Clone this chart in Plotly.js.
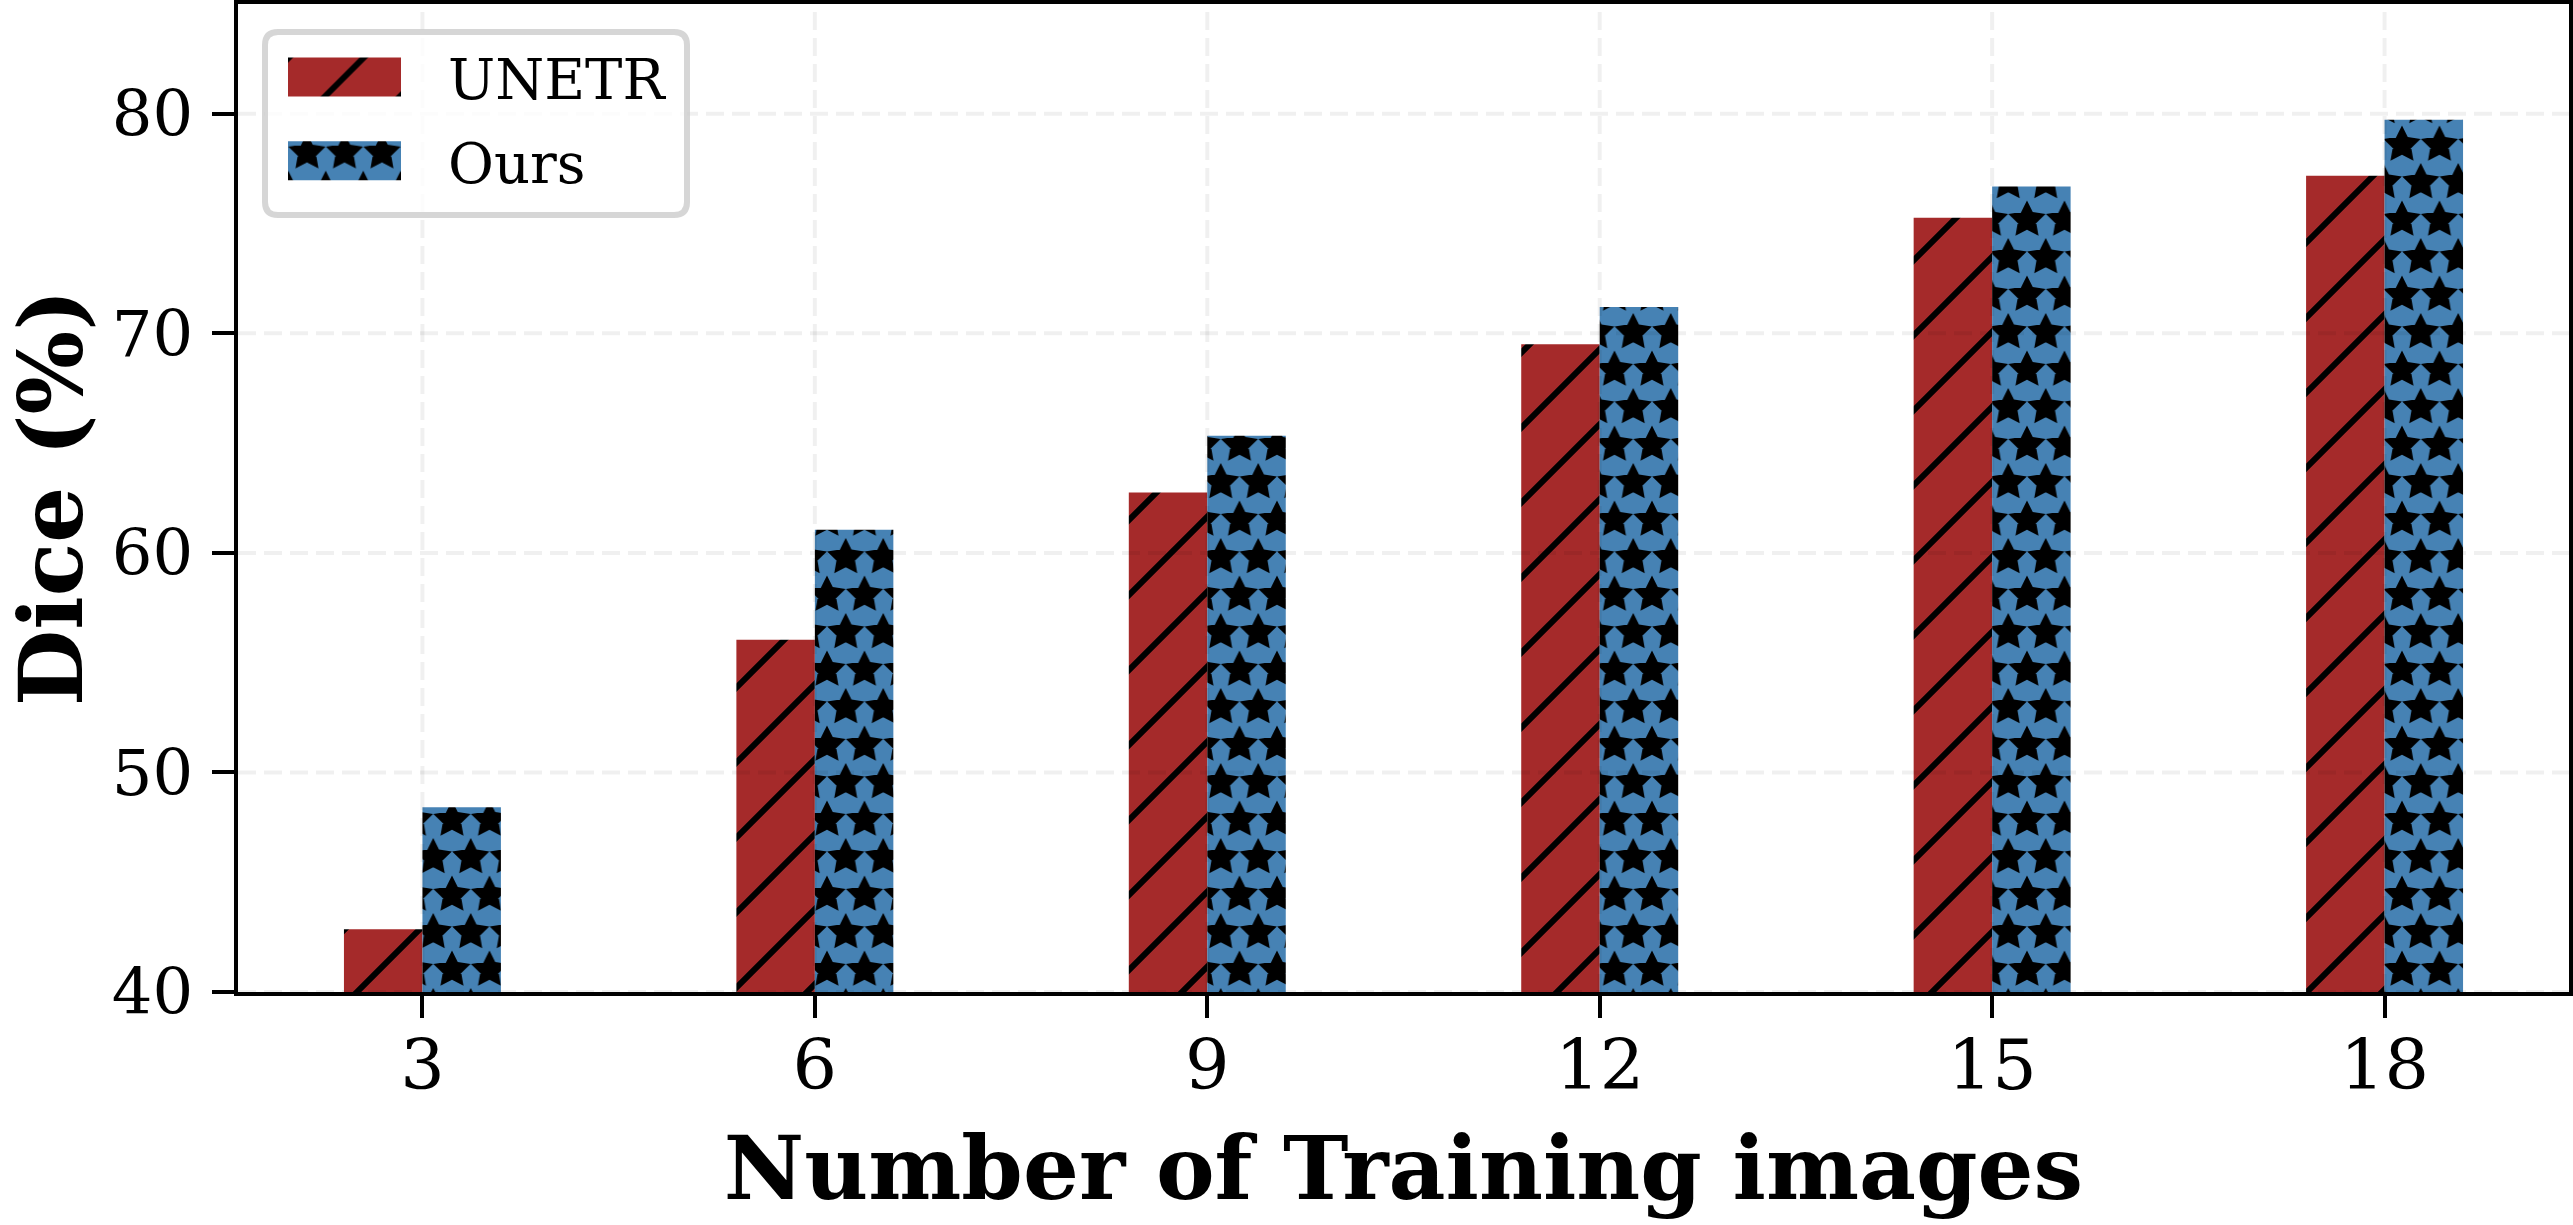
<!DOCTYPE html>
<html><head><meta charset="utf-8">
<script src="https://cdn.plot.ly/plotly-3.0.1.min.js"></script>
<style>html,body{margin:0;padding:0;background:#fff;overflow:hidden;} #chart{width:2573px;height:1225px;}</style>
</head><body>
<div id="chart"></div>
<script>
// ---------------- data ----------------
const categories = ['3', '6', '9', '12', '15', '18'];
const seriesNames = ['UNETR', 'Ours'];
const unetrDice = [42.86, 56.04, 62.75, 69.50, 75.26, 77.18];
const oursDice  = [48.41, 61.05, 65.34, 71.20, 76.69, 79.73];
const yTickValues = [40, 50, 60, 70, 80];
const xTitleText = 'Number of Training images';
const yTitleText = 'Dice (%)';

// ---------------- styling ----------------
const W = 2573, H = 1225;
const M = {l: 238, r: 4, t: 4, b: 233};
const FONT = 'DejaVu Serif';
const RED = '#a52a2a', BLUE = '#4682b4';
const GRID = 'rgba(0,0,0,0.06)';
const pw = W - M.l - M.r, ph = H - M.t - M.b;
const px2x = p => (p - M.l) / pw;
const px2y = p => 1 - (p - M.t) / ph;

// grid lines drawn above bars (as in the reference)
const shapes = [];
yTickValues.forEach(v => shapes.push({type: 'line', layer: 'above', xref: 'paper', yref: 'y',
  x0: 0, x1: 1, y0: v, y1: v, line: {color: GRID, width: 4, dash: '18px,8px'}}));
categories.forEach((c, i) => shapes.push({type: 'line', layer: 'above', xref: 'x', yref: 'paper',
  x0: i, x1: i, y0: 0, y1: 1, line: {color: GRID, width: 4, dash: '18px,8px'}}));

// rounded legend frame
(function () {
  const x0 = 265, x1 = 687, y0 = 32, y1 = 215, r = 13;
  const X = px2x, Y = px2y;
  const d = `M${X(x0 + r)},${Y(y0)} L${X(x1 - r)},${Y(y0)} Q${X(x1)},${Y(y0)} ${X(x1)},${Y(y0 + r)}` +
    ` L${X(x1)},${Y(y1 - r)} Q${X(x1)},${Y(y1)} ${X(x1 - r)},${Y(y1)}` +
    ` L${X(x0 + r)},${Y(y1)} Q${X(x0)},${Y(y1)} ${X(x0)},${Y(y1 - r)}` +
    ` L${X(x0)},${Y(y0 + r)} Q${X(x0)},${Y(y0)} ${X(x0 + r)},${Y(y0)} Z`;
  shapes.push({type: 'path', layer: 'above', xref: 'paper', yref: 'paper', path: d,
    fillcolor: 'rgba(255,255,255,0.8)', line: {color: 'rgba(204,204,204,0.8)', width: 6}});
})();

const traces = [
  {type: 'bar', name: seriesNames[0], x: categories, y: unetrDice, legendgroup: 'a',
   marker: {color: RED, line: {width: 0},
     pattern: {shape: '/', fillmode: 'overlay', bgcolor: RED, fgcolor: '#000', size: 53, solidity: 0.113}}},
  {type: 'bar', name: seriesNames[1], x: categories, y: oursDice, legendgroup: 'b',
   marker: {color: BLUE, line: {width: 0},
     pattern: {shape: '.', fillmode: 'overlay', bgcolor: BLUE, fgcolor: '#000', size: 37, solidity: 0.5}}}
];

const axisCommon = {showline: true, mirror: true, linecolor: '#000', linewidth: 4,
  ticks: 'outside', ticklen: 22, tickwidth: 4, tickcolor: '#000', showgrid: false, zeroline: false};

const layout = {
  width: W, height: H, margin: M, paper_bgcolor: '#fff', plot_bgcolor: '#fff',
  font: {family: FONT, color: '#000'},
  barmode: 'group', bargap: 0.6, bargroupgap: 0,
  showlegend: true,
  legend: {x: px2x(241), y: px2y(34), xanchor: 'left', yanchor: 'top', bgcolor: 'rgba(0,0,0,0)',
    borderwidth: 0, itemwidth: 197, tracegroupgap: 8, font: {family: FONT, size: 56, color: '#000'}},
  xaxis: Object.assign({}, axisCommon, {type: 'category', range: [-0.47, 5.47],
    tickfont: {family: FONT, size: 70}, ticklabelstandoff: -13,
    title: {text: xTitleText, font: {family: FONT, size: 88, weight: 700}, standoff: 33}}),
  yaxis: Object.assign({}, axisCommon, {range: [40, 85], tickvals: yTickValues,
    tickfont: {family: FONT, size: 64}, ticklabelstandoff: 6}),
  annotations: [{text: yTitleText, xref: 'paper', yref: 'paper', x: px2x(51), y: 0.5,
    xanchor: 'center', yanchor: 'middle', textangle: -90, showarrow: false,
    font: {family: FONT, size: 88, weight: 700, color: '#000'}}],
  shapes: shapes
};

function mkStar(cx, cy, R) {
  let d = '';
  for (let k = 0; k < 10; k++) {
    const a = Math.PI / 2 + k * Math.PI / 5;
    const r = (k % 2 === 0) ? R : R * 0.5;
    d += (k === 0 ? 'M' : 'L') + (cx + r * Math.cos(a)).toFixed(2) + ',' + (cy - r * Math.sin(a)).toFixed(2);
  }
  return d + 'Z';
}

function addPatterns(gd) {
  const NS = 'http://www.w3.org/2000/svg';
  const defs = gd.querySelector('svg.main-svg defs');
  const P = 37.5, R = 12.5, SW = 6.25;
  function starPattern(id, ox, oy) {
    const pat = document.createElementNS(NS, 'pattern');
    pat.setAttribute('id', id);
    pat.setAttribute('patternUnits', 'userSpaceOnUse');
    pat.setAttribute('width', P); pat.setAttribute('height', 2 * P);
    pat.setAttribute('x', ox); pat.setAttribute('y', oy);
    const bg = document.createElementNS(NS, 'rect');
    bg.setAttribute('width', P); bg.setAttribute('height', 2 * P); bg.setAttribute('fill', BLUE);
    pat.appendChild(bg);
    const path = document.createElementNS(NS, 'path');
    path.setAttribute('d', [[0, 0], [P, 0], [0, 2 * P], [P, 2 * P], [P / 2, P]].map(c => mkStar(c[0], c[1], R)).join(''));
    path.setAttribute('fill', '#000'); path.setAttribute('stroke', '#000');
    path.setAttribute('stroke-width', SW); path.setAttribute('stroke-linejoin', 'miter');
    pat.appendChild(path);
    defs.appendChild(pat);
  }
  function hatchPattern(id, S, ox, oy) {
    const pat = document.createElementNS(NS, 'pattern');
    pat.setAttribute('id', id);
    pat.setAttribute('patternUnits', 'userSpaceOnUse');
    pat.setAttribute('width', S); pat.setAttribute('height', S);
    pat.setAttribute('x', ox); pat.setAttribute('y', oy);
    const bg = document.createElementNS(NS, 'rect');
    bg.setAttribute('width', S); bg.setAttribute('height', S); bg.setAttribute('fill', RED);
    pat.appendChild(bg);
    const path = document.createElementNS(NS, 'path');
    path.setAttribute('d', `M${-S / 4},${S / 4}l${S / 2},${-S / 2}M0,${S}L${S},0M${S * 3 / 4},${S * 5 / 4}l${S / 2},${-S / 2}`);
    path.setAttribute('stroke', '#000'); path.setAttribute('stroke-width', 6);
    pat.appendChild(path);
    defs.appendChild(pat);
  }
  starPattern('starsBars', 26.5, 66);
  starPattern('starsLegend', 0, -8);
  hatchPattern('hatchBars', 75, 57, 0);
  hatchPattern('hatchLegend', 75, 0, 0);

  const barTraces = gd.querySelectorAll('.barlayer .trace');
  if (barTraces[0]) barTraces[0].querySelectorAll('.point path').forEach(p => { p.style.fill = 'url(#hatchBars)'; });
  if (barTraces[1]) barTraces[1].querySelectorAll('.point path').forEach(p => { p.style.fill = 'url(#starsBars)'; });

  const legItems = gd.querySelectorAll('.legend .traces');
  legItems.forEach((it, i) => {
    const p = it.querySelector('.legendpoints path');
    if (!p) return;
    p.setAttribute('d', 'M-56.5,19.5H56.5V-19.5H-56.5Z');
    p.style.fill = i === 0 ? 'url(#hatchLegend)' : 'url(#starsLegend)';
    p.style.stroke = 'none';
  });
}

Plotly.newPlot('chart', traces, layout, {staticPlot: true, displayModeBar: false}).then(gd => {
  addPatterns(gd);
});
</script>
</body></html>
